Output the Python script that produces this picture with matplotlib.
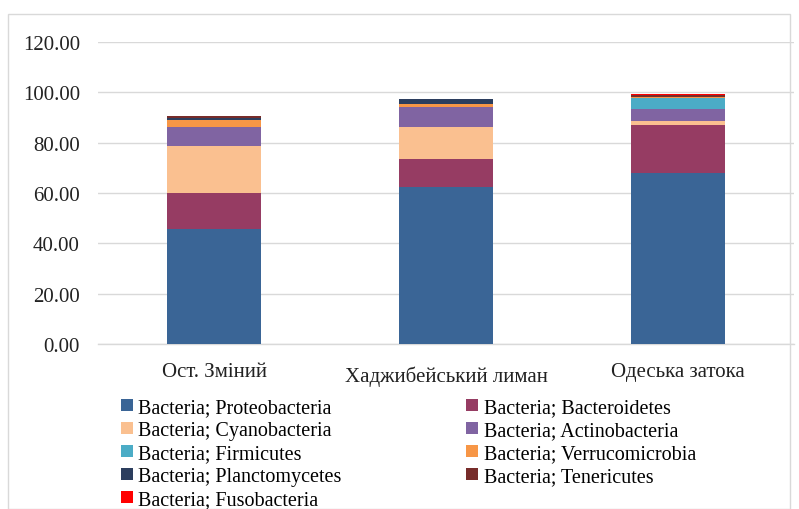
import numpy as np
import matplotlib.pyplot as plt
from matplotlib.patches import Rectangle

plt.rcParams['font.family'] = ['Liberation Serif', 'DejaVu Serif']

sites = ["Ост. Зміний", "Хаджибейський лиман", "Одеська затока"]

phyla = [
    "Bacteria; Proteobacteria",
    "Bacteria; Bacteroidetes",
    "Bacteria; Cyanobacteria",
    "Bacteria; Actinobacteria",
    "Bacteria; Firmicutes",
    "Bacteria; Verrucomicrobia",
    "Bacteria; Planctomycetes",
    "Bacteria; Tenericutes",
    "Bacteria; Fusobacteria",
]

proteobacteria = [45.7, 62.3, 67.9]
bacteroidetes = [14.2, 11.2, 19.3]
cyanobacteria = [18.9, 12.8, 1.6]
actinobacteria = [7.3, 7.7, 4.6]
firmicutes = [0.3, 0.3, 4.3]
verrucomicrobia = [2.8, 1.0, 0.3]
planctomycetes = [0.5, 2.1, 0.3]
tenericutes = [0.7, 0.1, 0.8]
fusobacteria = [0.3, 0.0, 0.4]

series = [proteobacteria, bacteroidetes, cyanobacteria, actinobacteria,
          firmicutes, verrucomicrobia, planctomycetes, tenericutes, fusobacteria]
colors = ["#3A6596", "#963C63", "#FAC090", "#8064A2", "#4BACC6",
          "#F79646", "#2C3E5E", "#772C2A", "#FF0000"]

fig = plt.figure(figsize=(7.99, 5.10), dpi=100)
ax = fig.add_axes([98 / 799, 1 - 345 / 510, 696 / 799, 302 / 510])

x = np.arange(len(sites))
bottom = np.zeros(len(sites))
bars = []
for vals, name, col in zip(series, phyla, colors):
    b = ax.bar(x, vals, width=0.405, bottom=bottom, color=col, label=name, zorder=3)
    bars.append(b)
    bottom += np.array(vals)

ax.set_ylim(0, 120)
ax.set_xlim(-0.5, 2.5)
ax.set_yticks(np.arange(0, 121, 20))
ax.set_yticklabels([f"{v:.2f}" for v in np.arange(0, 121, 20)], fontsize=15, color="#222222")
ax.tick_params(axis="y", length=0, pad=13)
ax.set_xticks([])
ax.grid(axis="y", color="#D9D9D9", linewidth=1, zorder=0)
for s in ["left", "right", "top"]:
    ax.spines[s].set_visible(False)
ax.spines["bottom"].set_color("#D9D9D9")
ax.spines["bottom"].set_linewidth(1)

label_offsets = [0.0, -0.015, 0.0]
for xi, name, off in zip(x, sites, label_offsets):
    ax.text(xi, -0.09 + off, name, transform=ax.get_xaxis_transform(),
            ha="center", va="center", fontsize=15, color="#222222")

# legend filled column-wise, so reorder to read row-wise like the original
order = [0, 2, 4, 6, 8, 1, 3, 5, 7]
fig.legend([bars[i] for i in order], [phyla[i] for i in order],
           loc="upper left", bbox_to_anchor=(113 / 799, 1 - 391 / 510),
           ncol=2, frameon=False, fontsize=14.5, handlelength=0.6, handleheight=0.6,
           handletextpad=0.25, columnspacing=6.2, labelspacing=0.2, borderaxespad=0)

fig.patches.append(Rectangle((8 / 799, 0), 782 / 799, 1 - 15 / 510, transform=fig.transFigure,
                             fill=False, edgecolor="#D9D9D9", linewidth=1))

fig.savefig("out.png", dpi=100)
